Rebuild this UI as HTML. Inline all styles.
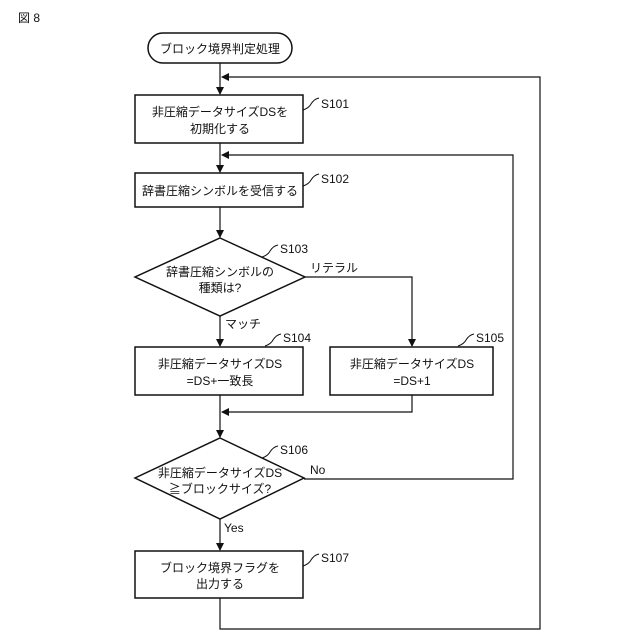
<!DOCTYPE html>
<html><head><meta charset="utf-8"><style>
html,body{margin:0;padding:0;background:#fff;}
svg{display:block;}
text{font-family:"Liberation Sans","Noto Sans CJK JP",sans-serif;font-size:12px;fill:#111;}
</style></head><body>
<svg width="640" height="640" viewBox="0 0 640 640" xmlns="http://www.w3.org/2000/svg">
<defs><marker id="a" markerWidth="8" markerHeight="8" refX="7" refY="4" orient="auto" markerUnits="userSpaceOnUse"><path d="M0,0 L8,4 L0,8 z" fill="#111"/></marker></defs>
<g stroke="#111" stroke-width="1.5" fill="none">
<rect x="148" y="33" width="144" height="30" rx="15"/>
<rect x="135" y="95" width="168" height="48"/>
<rect x="135" y="173" width="168" height="34"/>
<polygon points="220,238 305,277 220,316 135,277"/>
<rect x="135" y="347" width="168" height="48"/>
<rect x="330" y="347" width="163" height="48"/>
<polygon points="220,438 304,478 220,519 135,478"/>
<rect x="135" y="551" width="168" height="47"/>
<g stroke-width="1.2">
<line x1="220" y1="63" x2="220" y2="94" marker-end="url(#a)"/>
<line x1="220" y1="143" x2="220" y2="172" marker-end="url(#a)"/>
<line x1="220" y1="207" x2="220" y2="237" marker-end="url(#a)"/>
<line x1="220" y1="316" x2="220" y2="346" marker-end="url(#a)"/>
<polyline points="305,277 412,277 412,346" marker-end="url(#a)"/>
<line x1="220" y1="395" x2="220" y2="437" marker-end="url(#a)"/>
<polyline points="412,395 412,412 222,412" marker-end="url(#a)"/>
<line x1="220" y1="519" x2="220" y2="550" marker-end="url(#a)"/>
<polyline points="304,479 513,479 513,155 222,155" marker-end="url(#a)"/>
<polyline points="220,598 220,629 540,629 540,77 222,77" marker-end="url(#a)"/>
</g>
<g stroke-width="1">
<path d="M303,110 q6,-2 8,-6 q3,-5 8,-6"/>
<path d="M303,186 q6,-2 8,-6 q3,-5 8,-6"/>
<path d="M262,257 q6,-2 8,-6 q3,-5 8,-6"/>
<path d="M265,346 q6,-2 8,-6 q3,-5 8,-6"/>
<path d="M458,346 q6,-2 8,-6 q3,-5 8,-6"/>
<path d="M262,458 q6,-2 8,-6 q3,-5 8,-6"/>
<path d="M303,566 q6,-2 8,-6 q3,-5 8,-6"/>
</g>
</g>
<text x="18" y="22" font-size="13">図 8</text>
<text x="220" y="53" text-anchor="middle">ブロック境界判定処理</text>
<text x="220" y="116" text-anchor="middle">非圧縮データサイズDSを</text>
<text x="220" y="133" text-anchor="middle">初期化する</text>
<text x="220" y="195" text-anchor="middle">辞書圧縮シンボルを受信する</text>
<text x="220" y="276" text-anchor="middle">辞書圧縮シンボルの</text>
<text x="220" y="292" text-anchor="middle">種類は?</text>
<text x="220" y="368" text-anchor="middle">非圧縮データサイズDS</text>
<text x="220" y="385" text-anchor="middle">=DS+一致長</text>
<text x="412" y="368" text-anchor="middle">非圧縮データサイズDS</text>
<text x="412" y="385" text-anchor="middle">=DS+1</text>
<text x="220" y="477" text-anchor="middle">非圧縮データサイズDS</text>
<text x="220" y="493" text-anchor="middle">≧ブロックサイズ?</text>
<text x="220" y="572" text-anchor="middle">ブロック境界フラグを</text>
<text x="220" y="588" text-anchor="middle">出力する</text>
<text x="310" y="272">リテラル</text>
<text x="225" y="328">マッチ</text>
<text x="310" y="474">No</text>
<text x="224" y="532">Yes</text>
<text x="321" y="108">S101</text>
<text x="321" y="183">S102</text>
<text x="280" y="253">S103</text>
<text x="283" y="342">S104</text>
<text x="476" y="342">S105</text>
<text x="280" y="454">S106</text>
<text x="321" y="562">S107</text>
</svg>
</body></html>
